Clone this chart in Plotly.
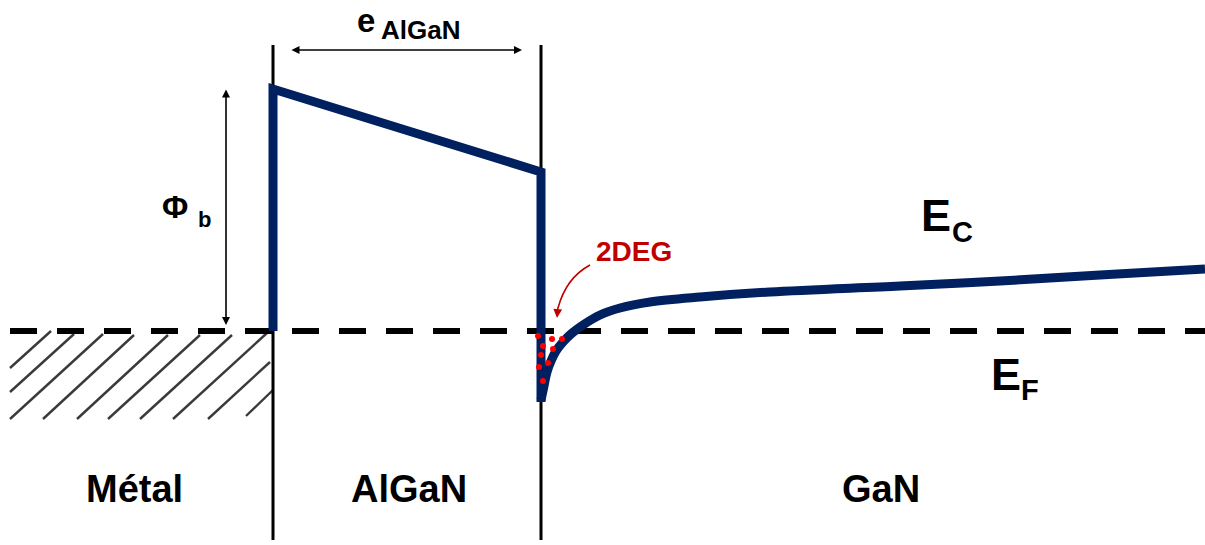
import plotly.graph_objects as go

# ---- data (pixel-space diagram coordinates) ----
W, H = 1205, 545
fermi_level = 331
fermi_x = [10, 1205]

# conduction band: metal interface -> AlGaN slope -> drop into the well
band_x = [273, 273, 541, 541]
band_y = [331, 89, 172, 402]

# GaN band bending (from the bottom of the well towards the bulk)
gan_x = [541, 544, 547, 551, 556, 563, 571, 583, 600, 620, 650, 700, 770, 900, 1000, 1100, 1205]
gan_y = [400, 386, 372, 361, 351, 342, 334, 325, 315, 308, 302, 297, 292, 286, 281, 275, 269]

# interfaces
interface_x = [273, 541]
interface_top = 45
interface_bottom = 540

# metal hatching
hatch_x0 = [10, 10, 10, 43, 77, 108, 140, 173, 208, 246]
hatch_y0 = [368, 392, 419, 419, 419, 419, 419, 419, 419, 416]
hatch_x1 = [51, 74, 103, 134, 168, 200, 232, 267, 270, 273]
hatch_y1 = [331, 334, 334, 335, 335, 335, 335, 333, 362, 390]

# 2DEG electrons
dots_x = [538, 552, 562, 543, 553, 541, 548, 539, 543]
dots_y = [336, 339, 339, 346, 349, 355, 363, 367, 381]

# dimension arrows
e_arrow = dict(x0=290, x1=522, y=50)
phi_arrow = dict(x=226, y0=88, y1=325)

NAVY = "#002060"
DARKRED = "#C00000"
FONT = "Liberation Sans, Arial, sans-serif"

fig = go.Figure()

# hatching
hx, hy = [], []
for a, b, c, d in zip(hatch_x0, hatch_y0, hatch_x1, hatch_y1):
    hx += [a, c, None]
    hy += [b, d, None]
fig.add_trace(go.Scatter(x=hx, y=hy, mode="lines",
                         line=dict(color="#3a3a3a", width=2.4), hoverinfo="skip"))

# interfaces
ix, iy = [], []
for x in interface_x:
    ix += [x, x, None]
    iy += [interface_top, interface_bottom, None]
fig.add_trace(go.Scatter(x=ix, y=iy, mode="lines",
                         line=dict(color="black", width=3), hoverinfo="skip"))

# Fermi level
fig.add_trace(go.Scatter(x=fermi_x, y=[fermi_level, fermi_level], mode="lines",
                         line=dict(color="black", width=6, dash="27px,20px"), hoverinfo="skip"))

# conduction band
fig.add_trace(go.Scatter(x=band_x, y=band_y, mode="lines",
                         line=dict(color=NAVY, width=9), hoverinfo="skip"))
fig.add_trace(go.Scatter(x=gan_x, y=gan_y, mode="lines",
                         line=dict(color=NAVY, width=9, shape="spline", smoothing=1.0),
                         hoverinfo="skip"))

# electrons
fig.add_trace(go.Scatter(x=dots_x, y=dots_y, mode="markers",
                         marker=dict(color="#FF0000", size=6), hoverinfo="skip"))

annotations = []

def arrow(x, y, ax, ay, color="black", width=1.6, head=2, size=1, side="end"):
    annotations.append(dict(x=x, y=y, ax=ax, ay=ay, xref="x", yref="y", axref="x", ayref="y",
                            text="", showarrow=True, arrowhead=head, arrowsize=size,
                            arrowwidth=width, arrowcolor=color, arrowside=side))

arrow(e_arrow["x1"], e_arrow["y"], e_arrow["x0"], e_arrow["y"], side="end+start")
arrow(phi_arrow["x"], phi_arrow["y1"], phi_arrow["x"], phi_arrow["y0"], side="end+start")

# curved 2DEG pointer
fig.add_shape(type="path", path="M 590,265 Q 566,278 558,308",
              line=dict(color=DARKRED, width=1.6), xref="x", yref="y")
arrow(557, 318, 558, 306, color=DARKRED, width=1.6, head=2, size=1.1)

def label(x, y, text, size, color="black"):
    annotations.append(dict(x=x, y=y, xref="x", yref="y", text=text, showarrow=False,
                            xanchor="center", yanchor="middle",
                            font=dict(family=FONT, size=size, color=color, weight="bold")))

label(134, 489, "Métal", 38)
label(409, 489, "AlGaN", 38)
label(881, 489, "GaN", 38)
label(366, 20, "e", 33)
label(420, 30, "AlGaN", 26)
label(175, 207, "Φ", 32)
label(204, 219, "b", 22)
label(936, 215, "E", 45)
label(962, 232, "C", 29)
label(1006, 374, "E", 45)
label(1030, 390, "F", 29)
label(634, 251, "2DEG", 28, DARKRED)

fig.update_layout(
    width=W, height=H, margin=dict(l=0, r=0, t=0, b=0),
    paper_bgcolor="white", plot_bgcolor="white", showlegend=False,
    xaxis=dict(range=[0, W], visible=False, fixedrange=True),
    yaxis=dict(range=[H, 0], visible=False, fixedrange=True),
    annotations=annotations,
)

fig.write_html("out.html", config={"displayModeBar": False},
               post_script="document.body.style.margin='0px';")
